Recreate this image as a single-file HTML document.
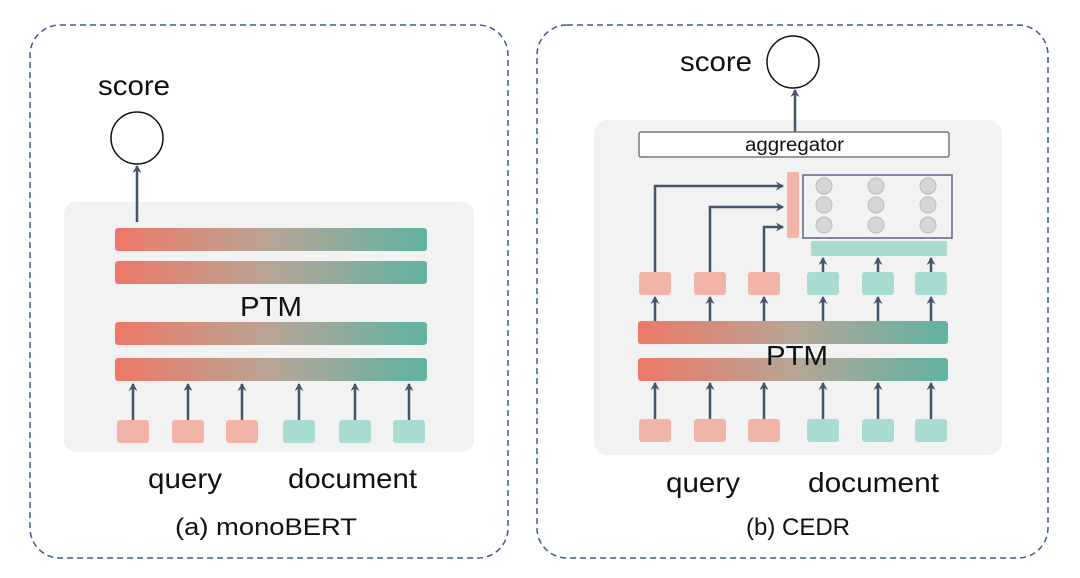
<!DOCTYPE html>
<html><head><meta charset="utf-8"><style>html,body{margin:0;padding:0;background:#fff}svg{display:block}text{font-family:"Liberation Sans",sans-serif;fill:#111}</style></head><body>
<svg width="1080" height="578" viewBox="0 0 1080 578">
<defs>
<linearGradient id="g" x1="0" x2="1" y1="0" y2="0"><stop offset="0" stop-color="#ee7867"/><stop offset="0.5" stop-color="#b7a595"/><stop offset="1" stop-color="#5fb2a3"/></linearGradient>
<marker id="a" markerWidth="10" markerHeight="10" refX="7" refY="5" orient="auto" markerUnits="userSpaceOnUse"><path d="M0,0.5 L8,5 L0,9.5 L2.5,5 Z" fill="#43546c"/></marker>
</defs>
<rect x="30" y="25" width="478" height="533" rx="30" fill="none" stroke="#3d5a96" stroke-width="1.5" stroke-dasharray="6,4"/>
<rect x="537" y="25" width="511" height="533" rx="30" fill="none" stroke="#3d5a96" stroke-width="1.5" stroke-dasharray="6,4"/>
<!-- left -->
<rect x="64" y="202" width="410" height="250" rx="12" fill="#f2f2f2"/>
<g fill="url(#g)"><rect x="115" y="228" width="312" height="23" rx="3"/><rect x="115" y="261" width="312" height="23" rx="3"/><rect x="115" y="322" width="312" height="23" rx="3"/><rect x="115" y="358" width="312" height="23" rx="3"/></g>
<text x="240" y="316" font-size="28" textLength="62" lengthAdjust="spacingAndGlyphs">PTM</text>
<circle cx="137" cy="138" r="26" fill="#fff" stroke="#111" stroke-width="1.5"/>
<line x1="137" y1="222" x2="137" y2="166" stroke="#43546c" stroke-width="2.5" marker-end="url(#a)"/>
<text x="98" y="95" font-size="28" textLength="72" lengthAdjust="spacingAndGlyphs">score</text>
<g stroke="#43546c" stroke-width="2.5" marker-end="url(#a)">
<line x1="133" y1="420" x2="133" y2="384"/><line x1="188" y1="420" x2="188" y2="384"/><line x1="242" y1="420" x2="242" y2="384"/><line x1="299" y1="420" x2="299" y2="384"/><line x1="355" y1="420" x2="355" y2="384"/><line x1="409" y1="420" x2="409" y2="384"/></g>
<g fill="#f3b4a8"><rect x="117" y="420" width="32" height="23" rx="3"/><rect x="172" y="420" width="32" height="23" rx="3"/><rect x="226" y="420" width="32" height="23" rx="3"/></g>
<g fill="#a8dbd2"><rect x="283" y="420" width="32" height="23" rx="3"/><rect x="339" y="420" width="32" height="23" rx="3"/><rect x="393" y="420" width="32" height="23" rx="3"/></g>
<text x="148" y="488" font-size="28" textLength="74" lengthAdjust="spacingAndGlyphs">query</text>
<text x="288" y="488" font-size="28" textLength="129" lengthAdjust="spacingAndGlyphs">document</text>
<text x="175" y="535" font-size="24" textLength="182" lengthAdjust="spacingAndGlyphs">(a) monoBERT</text>
<!-- right -->
<rect x="594" y="120" width="408" height="335" rx="14" fill="#f2f2f2"/>
<circle cx="793" cy="62" r="26" fill="#fff" stroke="#111" stroke-width="1.5"/>
<line x1="795" y1="132" x2="795" y2="90" stroke="#43546c" stroke-width="2.5" marker-end="url(#a)"/>
<text x="680" y="71" font-size="28" textLength="72" lengthAdjust="spacingAndGlyphs">score</text>
<rect x="639" y="132" width="310" height="25" rx="2" fill="#fff" stroke="#777" stroke-width="1.5"/>
<text x="745" y="151" font-size="19" textLength="99" lengthAdjust="spacingAndGlyphs">aggregator</text>
<rect x="787" y="172" width="12" height="66" rx="2" fill="#f3b4a8"/>
<rect x="803" y="175" width="149" height="63" fill="none" stroke="#5a6880" stroke-width="1.5"/>
<g fill="#d6d6d6" stroke="#bbb" stroke-width="1">
<circle cx="824" cy="186" r="8"/><circle cx="876" cy="186" r="8"/><circle cx="928" cy="186" r="8"/>
<circle cx="824" cy="205" r="8"/><circle cx="876" cy="205" r="8"/><circle cx="928" cy="205" r="8"/>
<circle cx="824" cy="225" r="8"/><circle cx="876" cy="225" r="8"/><circle cx="928" cy="225" r="8"/></g>
<rect x="811" y="241" width="136" height="15" rx="2" fill="#a8dbd2"/>
<g stroke="#43546c" stroke-width="2.5" fill="none" marker-end="url(#a)">
<path d="M655,272 V186 H783"/><path d="M710,272 V207 H783"/><path d="M764,272 V227 H783"/>
<line x1="823" y1="272" x2="823" y2="258"/><line x1="878" y1="272" x2="878" y2="258"/><line x1="931" y1="272" x2="931" y2="258"/>
<line x1="655" y1="321" x2="655" y2="297"/><line x1="710" y1="321" x2="710" y2="297"/><line x1="764" y1="321" x2="764" y2="297"/><line x1="823" y1="321" x2="823" y2="297"/><line x1="878" y1="321" x2="878" y2="297"/><line x1="931" y1="321" x2="931" y2="297"/>
<line x1="655" y1="419" x2="655" y2="383"/><line x1="710" y1="419" x2="710" y2="383"/><line x1="764" y1="419" x2="764" y2="383"/><line x1="823" y1="419" x2="823" y2="383"/><line x1="878" y1="419" x2="878" y2="383"/><line x1="931" y1="419" x2="931" y2="383"/></g>
<g fill="#f3b4a8"><rect x="639" y="272" width="32" height="23" rx="3"/><rect x="694" y="272" width="32" height="23" rx="3"/><rect x="748" y="272" width="32" height="23" rx="3"/>
<rect x="639" y="419" width="32" height="23" rx="3"/><rect x="694" y="419" width="32" height="23" rx="3"/><rect x="748" y="419" width="32" height="23" rx="3"/></g>
<g fill="#a8dbd2"><rect x="807" y="272" width="32" height="23" rx="3"/><rect x="862" y="272" width="32" height="23" rx="3"/><rect x="915" y="272" width="32" height="23" rx="3"/>
<rect x="807" y="419" width="32" height="23" rx="3"/><rect x="862" y="419" width="32" height="23" rx="3"/><rect x="915" y="419" width="32" height="23" rx="3"/></g>
<g fill="url(#g)"><rect x="638" y="321" width="310" height="23" rx="3"/><rect x="638" y="358" width="310" height="23" rx="3"/></g>
<text x="766" y="365" font-size="28" textLength="62" lengthAdjust="spacingAndGlyphs">PTM</text>
<text x="666" y="492" font-size="28" textLength="74" lengthAdjust="spacingAndGlyphs">query</text>
<text x="808" y="492" font-size="28" textLength="131" lengthAdjust="spacingAndGlyphs">document</text>
<text x="746" y="535" font-size="24" textLength="104" lengthAdjust="spacingAndGlyphs">(b) CEDR</text>
</svg>
</body></html>
